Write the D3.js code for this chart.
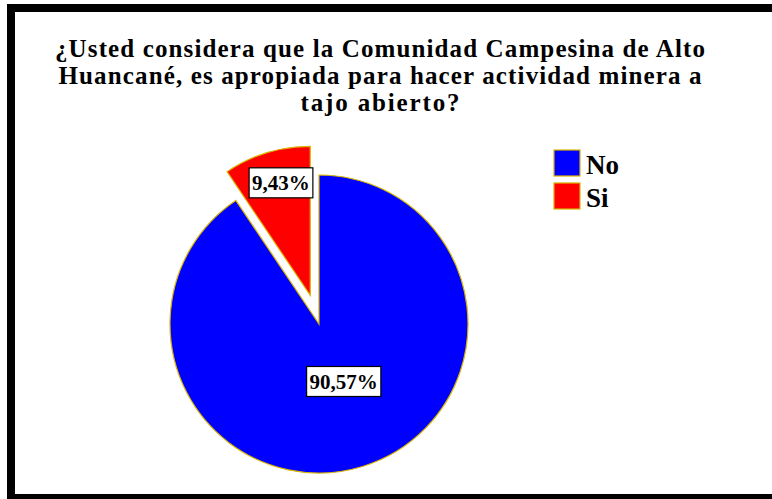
<!DOCTYPE html>
<html>
<head>
<meta charset="utf-8">
<script src="https://cdn.jsdelivr.net/npm/d3@7"></script>
<style>
  html, body { margin: 0; padding: 0; background: #ffffff; }
  svg { display: block; }
</style>
</head>
<body>
<div id="chart"></div>
<script>
// ---- data ----
const categories = ["No", "Si"];
const values = [90.57, 9.43];
const valueLabels = ["90,57%", "9,43%"];
const colors = ["#0000ff", "#ff0000"];
const titleLines = [
  "¿Usted considera que la Comunidad Campesina de Alto",
  "Huancané, es apropiada para hacer actividad minera a",
  "tajo abierto?"
];
const explode = [0, 30];

// ---- layout ----
const W = 772, H = 499;
const svg = d3.select("#chart").append("svg").attr("width", W).attr("height", H);

svg.append("rect").attr("width", W).attr("height", H).attr("fill", "#ffffff");
// frame
svg.append("rect")
  .attr("x", 11).attr("y", 8).attr("width", W + 20).attr("height", 490)
  .attr("fill", "#ffffff").attr("stroke", "#000").attr("stroke-width", 8);

const serif = "'Liberation Serif', 'Times New Roman', serif";

// title
const titleWidths = [650, 643, 159];
const title = svg.append("g");
titleLines.forEach((t, i) => {
  title.append("text")
    .attr("x", 380).attr("y", 57 + i * 27)
    .attr("text-anchor", "middle")
    .attr("font-family", serif).attr("font-weight", "bold")
    .attr("font-size", 25)
    .attr("textLength", titleWidths[i]).attr("lengthAdjust", "spacing")
    .attr("fill", "#000")
    .text(t);
});

// pie
const cx = 319, cy = 324, R = 149;
const pie = d3.pie().sort(null).value(d => d);
const arcs = pie(values);
const arc = d3.arc().innerRadius(0).outerRadius(R);
const g = svg.append("g").attr("transform", `translate(${cx},${cy})`);

arcs.forEach((a, i) => {
  const mid = (a.startAngle + a.endAngle) / 2;
  const ox = Math.sin(mid) * explode[i], oy = -Math.cos(mid) * explode[i];
  g.append("path")
    .attr("d", arc(a))
    .attr("transform", `translate(${ox},${oy})`)
    .attr("fill", colors[i])
    .attr("stroke", "#d8b400").attr("stroke-width", 1.2);
});

// labels
const labelRadius = [0.42, 0.78];
const labelAngleShift = [-6.3, 2.4]; // degrees
arcs.forEach((a, i) => {
  const mid = (a.startAngle + a.endAngle) / 2;
  const ox = Math.sin(mid) * explode[i], oy = -Math.cos(mid) * explode[i];
  const la = mid + labelAngleShift[i] * Math.PI / 180;
  const rr = R * labelRadius[i];
  const lx = ox + Math.sin(la) * rr, ly = oy - Math.cos(la) * rr;
  const lg = g.append("g").attr("transform", `translate(${lx},${ly})`);
  const txt = lg.append("text")
    .attr("text-anchor", "middle").attr("dy", "0.35em")
    .attr("font-family", serif).attr("font-weight", "bold")
    .attr("font-size", 21).attr("fill", "#000")
    .text(valueLabels[i]);
  const bb = txt.node().getBBox();
  lg.insert("rect", "text")
    .attr("x", bb.x - 3).attr("y", -15)
    .attr("width", bb.width + 6).attr("height", 30)
    .attr("fill", "#fff").attr("stroke", "#000").attr("stroke-width", 1.2);
});

// legend
const legend = svg.append("g").attr("transform", "translate(554,150)");
categories.forEach((c, i) => {
  const row = legend.append("g").attr("transform", `translate(0,${i * 33})`);
  row.append("rect").attr("width", 26).attr("height", 26)
    .attr("fill", colors[i]).attr("stroke", "#d8b400").attr("stroke-width", 1.2);
  row.append("text").attr("x", 32).attr("y", 24)
    .attr("font-family", serif).attr("font-weight", "bold")
    .attr("font-size", 27).attr("fill", "#000")
    .text(c);
});
</script>
</body>
</html>
